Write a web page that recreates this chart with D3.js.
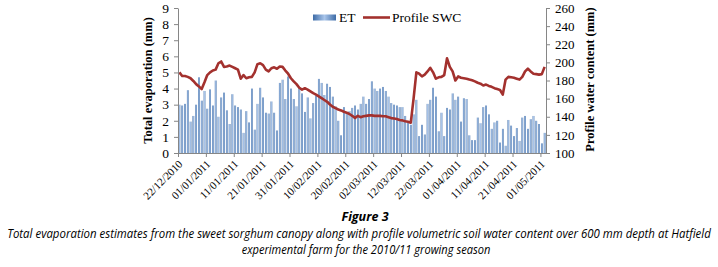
<!DOCTYPE html>
<html><head><meta charset="utf-8">
<script src="https://cdn.jsdelivr.net/npm/d3@7"></script>
<style>html,body{margin:0;padding:0;background:#fff;}svg{display:block;}</style>
</head><body>
<svg id="c" width="718" height="267"></svg>
<script>
// ---- data ----
const startDate = "2010-12-22";
const etValues = [3.0,2.95,3.05,3.9,1.95,2.3,3.0,4.7,3.25,3.85,2.75,3.95,2.95,4.5,2.25,3.45,3.75,2.65,1.8,3.65,
2.95,2.85,2.7,1.25,2.6,1.9,4.0,1.45,3.05,4.05,3.45,2.5,2.45,3.2,2.5,1.4,4.35,4.55,3.35,4.75,
4.0,3.35,2.9,4.05,3.7,2.55,3.45,2.15,3.1,3.55,4.6,4.35,3.6,4.3,4.1,3.5,2.9,2.0,1.1,2.85,
2.5,2.6,2.8,2.95,2.7,3.05,3.5,3.05,3.35,4.45,4.0,3.85,4.0,4.1,3.85,3.5,3.1,3.0,2.95,2.85,
2.85,2.3,1.9,1.75,2.4,3.3,1.05,1.75,1.15,3.05,3.3,4.05,3.5,1.35,2.5,1.05,2.8,2.7,3.7,3.3,
3.5,1.95,3.4,3.35,1.1,0.8,0.8,2.2,1.85,2.85,2.95,2.4,1.5,1.9,2.0,0.65,1.5,0.45,2.05,1.7,
1.05,1.55,0.75,2.2,2.3,1.5,2.1,2.3,2.0,1.8,0.6,1.25];
const swcValues = [189,185,185,184,182.5,179.5,176,173.5,170.5,178,186,189,191,192,199,201,195,195.5,196.5,195,
193.5,192,182,186,182.5,183.5,184,189,198,199,197,192,190,193.5,194.5,193,195.5,195,191,187.5,
182.5,179,176,172,170,171.5,170,168,166,164.5,162.5,160.5,158.5,156.5,153.5,151,149.5,148,147,145.5,
144.5,143,141,138.5,141,139.5,140.5,141,141.5,141.5,141,141,141,140.5,140.5,139.5,138.5,138,137.5,136.5,
136,135,134.5,133.5,160,189,187.5,184.5,186.5,190,194,189,182,183.5,184,186,204.5,195,190,180,
184.5,183,182.5,182,181,180.2,179,177.5,176.5,174.5,175.5,174,173,171.5,170.5,169.5,164.5,181,184,183.5,
183,182,181,184,190,193,190,187.5,187,186.5,187,195];
const tickLabels = ["22/12/2010","01/01/2011","11/01/2011","21/01/2011","31/01/2011","10/02/2011","20/02/2011",
"02/03/2011","12/03/2011","22/03/2011","01/04/2011","11/04/2011","21/04/2011","01/05/2011"];
const leftTicks = [0,1,2,3,4,5,6,7,8,9];
const rightTicks = [100,120,140,160,180,200,220,240,260];
const seriesNames = ["ET","Profile SWC"];
const axisTitles = ["Total evaporation (mm)","Profile water content (mm)"];
const figTitle = "Figure 3";
const captionLines = ["Total evaporation estimates from the sweet sorghum canopy along with profile volumetric soil water content over 600 mm depth at Hatfield",
"experimental farm for the 2010/11 growing season"];

// ---- chart ----
const svg = d3.select("#c");
const L = 178, R = 546, T = 8, B = 153;
const parse = d3.timeParse("%Y-%m-%d");
const parseTick = d3.timeParse("%d/%m/%Y");
const d0 = parse(startDate);
const dates = etValues.map((v,i)=>d3.timeDay.offset(d0,i));
const dEnd = d3.timeDay.offset(d0, etValues.length);
const x = d3.scaleTime().domain([d0,dEnd]).range([L,R]);
const day = (R-L)/etValues.length;
const yL = d3.scaleLinear().domain([0,9]).range([B,T]);
const yR = d3.scaleLinear().domain([100,260]).range([B,T]);

const defs = svg.append("defs");
const g = defs.append("linearGradient").attr("id","bg").attr("x1","0").attr("x2","1").attr("y1","0").attr("y2","0");
g.append("stop").attr("offset","0%").attr("stop-color","#3d6ba6");
g.append("stop").attr("offset","50%").attr("stop-color","#a9c5ea");
g.append("stop").attr("offset","100%").attr("stop-color","#3d6ba6");

const serif = "'Liberation Serif','Times New Roman',serif";

svg.append("g").selectAll("rect").data(etValues).join("rect")
  .attr("x",(d,i)=>x(dates[i])+day*0.2)
  .attr("width",day*0.62)
  .attr("y",d=>yL(d))
  .attr("height",d=>B-yL(d))
  .attr("fill","url(#bg)");

const line = d3.line().x((d,i)=>x(dates[i])+day/2).y(d=>yR(d));
svg.append("path").datum(swcValues).attr("d",line)
  .attr("fill","none").attr("stroke","#a3312e").attr("stroke-width",2.6).attr("stroke-linejoin","round");

// axes
const axL = svg.append("g").attr("transform",`translate(${L},0)`)
  .call(d3.axisLeft(yL).tickValues(leftTicks).tickSize(4).tickSizeOuter(0).tickPadding(5));
const axR = svg.append("g").attr("transform",`translate(${R},0)`)
  .call(d3.axisRight(yR).tickValues(rightTicks).tickSize(4).tickSizeOuter(0).tickPadding(5));
const axB = svg.append("g").attr("transform",`translate(0,${B})`)
  .call(d3.axisBottom(x).tickValues(tickLabels.map(parseTick)).tickFormat(d3.timeFormat("%d/%m/%Y")).tickSize(4).tickSizeOuter(0));
[axL,axR,axB].forEach(a=>{
  a.selectAll("path,line").attr("stroke","#868686").attr("stroke-width",1);
  a.selectAll("text").attr("fill","#000").style("font-family",serif);
});
axL.selectAll("text").style("font-size","13.5px");
axR.selectAll("text").style("font-size","13px");
axB.selectAll("text").style("font-size","11px")
  .attr("text-anchor","end").attr("dy","0.35em").attr("y",0)
  .attr("transform","translate(2,9) rotate(-45)");

// axis titles
svg.append("text").attr("transform",`translate(152,${(T+B)/2}) rotate(-90)`)
  .attr("text-anchor","middle").style("font-family",serif).style("font-weight","bold").style("font-size","12.5px")
  .text(axisTitles[0]);
svg.append("text").attr("transform",`translate(594,${(T+B)/2-1}) rotate(-90)`)
  .attr("text-anchor","middle").style("font-family",serif).style("font-weight","bold").style("font-size","12.5px")
  .text(axisTitles[1]);

// legend
svg.append("rect").attr("x",313).attr("y",14.5).attr("width",23).attr("height",6).attr("fill","url(#bg)");
svg.append("text").attr("x",339).attr("y",22).style("font-family",serif).style("font-size","13.5px").text(seriesNames[0]);
svg.append("line").attr("x1",363).attr("x2",390).attr("y1",17.5).attr("y2",17.5).attr("stroke","#a3312e").attr("stroke-width",2.6);
svg.append("text").attr("x",392).attr("y",22).style("font-family",serif).style("font-size","13.5px").text(seriesNames[1]);

// caption (condensed by horizontal scaling to mimic the narrow italic face)
const cap = "'Open Sans','Noto Sans',sans-serif";
function capText(str, cx, cy, targetW, size, bold){
  const t = svg.append("text").attr("text-anchor","middle")
    .style("font-family",cap).style("font-style","italic").style("font-size",size+"px")
    .style("font-weight",bold?"bold":"normal").text(str);
  const w = t.node().getComputedTextLength();
  const s = Math.min(1, targetW / w);
  t.attr("transform",`translate(${cx},${cy}) scale(${s},1)`);
}
capText(figTitle, 365, 221, 48, 12.5, true);
capText(captionLines[0], 359, 238, 704, 12, false);
capText(captionLines[1], 366, 254, 249, 12, false);
</script>
</body></html>
